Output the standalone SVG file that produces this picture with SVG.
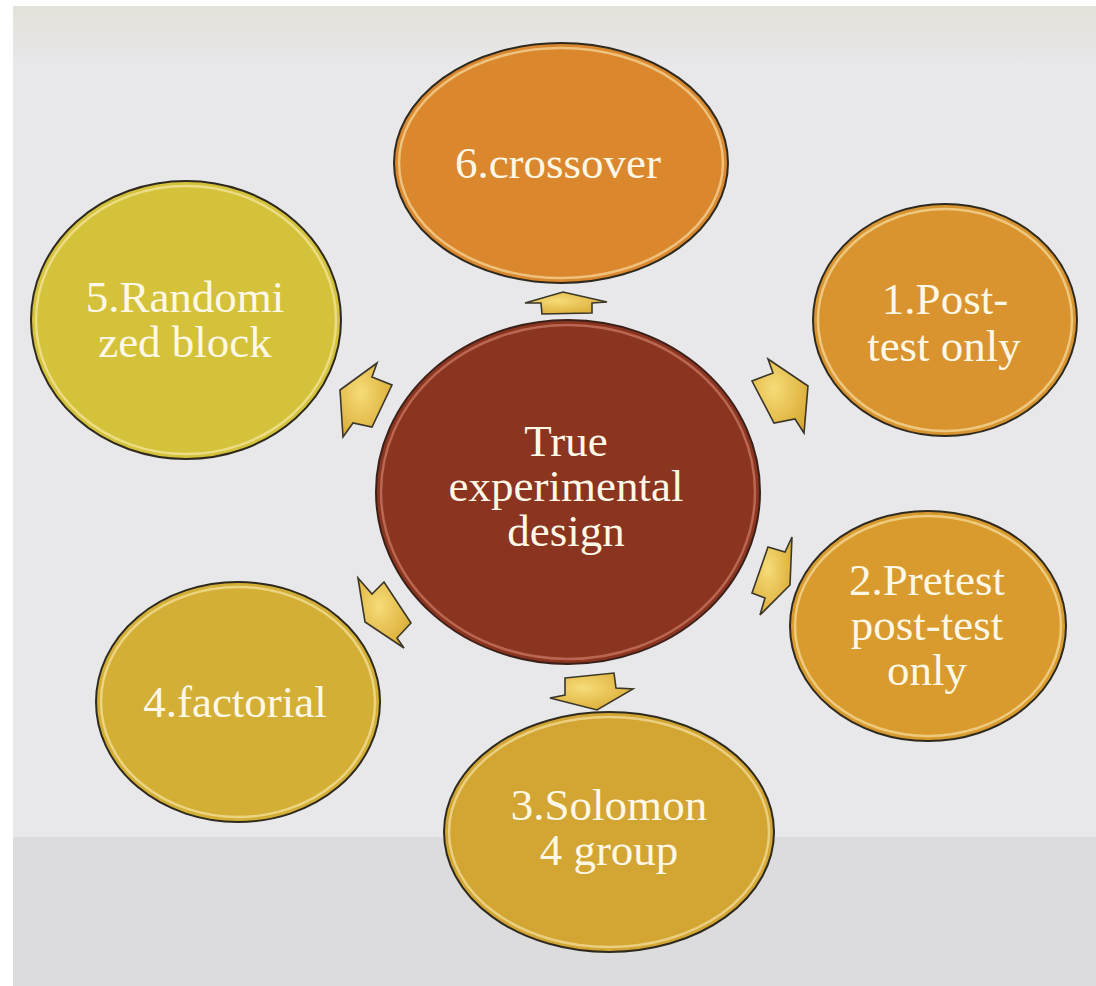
<svg xmlns="http://www.w3.org/2000/svg" width="1096" height="986" viewBox="0 0 1096 986">
<defs>
<style>
.lbl{font-family:"Liberation Serif","Times New Roman",serif;font-size:45px;fill:#fff8e6;text-anchor:middle}
.rim{fill:none;stroke:#2e2a1e;stroke-width:2}
.hl{fill:none;stroke:#fff3c0;stroke-opacity:0.55;stroke-width:2.5}
.arrow{fill:url(#gArrow);stroke:#3a3628;stroke-width:1.6;stroke-linejoin:miter}
</style>
<linearGradient id="gTop" x1="0" y1="0" x2="0" y2="1">
<stop offset="0" stop-color="#e2e1d9"/><stop offset="1" stop-color="#e8e7ea"/>
</linearGradient>
<radialGradient id="gArrow" cx="0.4" cy="0.4" r="0.7">
<stop offset="0" stop-color="#f6dc78"/><stop offset="1" stop-color="#d9a932"/>
</radialGradient>
</defs>
<rect x="0" y="0" width="1096" height="986" fill="#ffffff"/>
<rect x="13" y="6" width="1083" height="980" fill="#e8e7ea"/>
<rect x="13" y="6" width="1083" height="60" fill="url(#gTop)"/>
<rect x="13" y="837" width="1083" height="149" fill="#dcdbdd"/>

<g id="connectors">
<path class="arrow" d="M525,303 L563,292 L607,302 L592,303 L592,313 L542,314 L541,303 Z"/>
<path class="arrow" d="M768,359 L808,386 L804,433 L795,419 L774,423 L752,381 L773,373 Z"/>
<path class="arrow" d="M792,537 L790,585 L760,615 L765,598 L752,593 L768,547 L785,552 Z"/>
<path class="arrow" d="M565,678 L614,673 L616,688 L633,689 L597,710 L550,698 L565,695 Z"/>
<path class="arrow" d="M358,578 L372,594 L384,582 L411,623 L397,638 L404,648 L365,622 Z"/>
<path class="arrow" d="M340,390 L377,363 L372,377 L392,385 L372,427 L353,423 L343,437 Z"/>
</g>

<g id="node-crossover">
<ellipse cx="561" cy="163" rx="167" ry="120" fill="#da872e"/>
<ellipse class="hl" cx="561" cy="163" rx="162" ry="115"/>
<ellipse class="rim" cx="561" cy="163" rx="167" ry="120"/>
<text class="lbl" x="558" y="178">6.crossover</text>
</g>

<g id="node-posttest">
<ellipse cx="945" cy="320" rx="132" ry="116" fill="#d99430"/>
<ellipse class="hl" cx="945" cy="320" rx="127" ry="111"/>
<ellipse class="rim" cx="945" cy="320" rx="132" ry="116"/>
<text class="lbl" x="945" y="314">1.Post-</text>
<text class="lbl" x="944" y="361">test only</text>
</g>

<g id="node-pretest">
<ellipse cx="928" cy="626" rx="138" ry="115" fill="#d99a2e"/>
<ellipse class="hl" cx="928" cy="626" rx="133" ry="110"/>
<ellipse class="rim" cx="928" cy="626" rx="138" ry="115"/>
<text class="lbl" x="927" y="595">2.Pretest</text>
<text class="lbl" x="927" y="640">post-test</text>
<text class="lbl" x="927" y="685">only</text>
</g>

<g id="node-solomon">
<ellipse cx="609" cy="832" rx="165" ry="120" fill="#d3a533"/>
<ellipse class="hl" cx="609" cy="832" rx="160" ry="115"/>
<ellipse class="rim" cx="609" cy="832" rx="165" ry="120"/>
<text class="lbl" x="609" y="820">3.Solomon</text>
<text class="lbl" x="609" y="865">4 group</text>
</g>

<g id="node-factorial">
<ellipse cx="238" cy="702" rx="142" ry="120" fill="#d4af35"/>
<ellipse class="hl" cx="238" cy="702" rx="137" ry="115"/>
<ellipse class="rim" cx="238" cy="702" rx="142" ry="120"/>
<text class="lbl" x="235" y="717">4.factorial</text>
</g>

<g id="node-randomized">
<ellipse cx="186" cy="320" rx="155" ry="139" fill="#d4c23a"/>
<ellipse class="hl" cx="186" cy="320" rx="150" ry="134"/>
<ellipse class="rim" cx="186" cy="320" rx="155" ry="139"/>
<text class="lbl" x="185" y="312">5.Randomi</text>
<text class="lbl" x="185" y="357">zed block</text>
</g>

<g id="node-center">
<ellipse cx="568" cy="492" rx="192" ry="172" fill="#8b3420"/>
<ellipse cx="568" cy="492" rx="187" ry="167" fill="none" stroke="#d98a74" stroke-opacity="0.6" stroke-width="2.5"/>
<ellipse cx="568" cy="492" rx="192" ry="172" fill="none" stroke="#3a2018" stroke-width="2"/>
<text class="lbl" x="566" y="456">True</text>
<text class="lbl" x="566" y="501">experimental</text>
<text class="lbl" x="566" y="546">design</text>
</g>
</svg>
